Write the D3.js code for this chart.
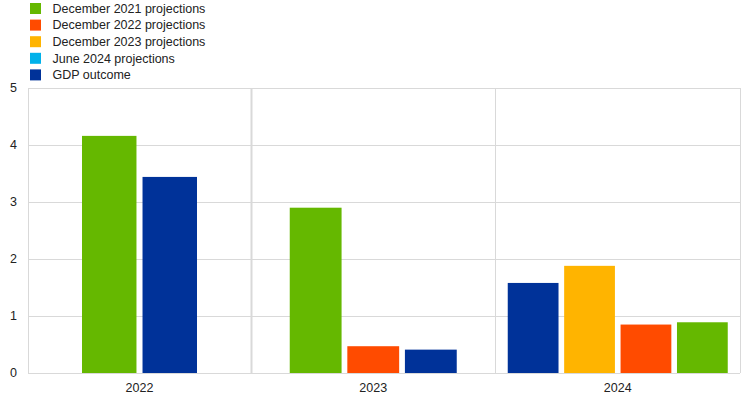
<!DOCTYPE html>
<html>
<head>
<meta charset="utf-8">
<script src="https://cdn.jsdelivr.net/npm/d3@7"></script>
<style>
  body { margin: 0; background: #fff; }
  svg { display: block; font-family: "Liberation Sans", Arial, sans-serif; }
</style>
</head>
<body>
<svg id="chart" width="743" height="399"></svg>
<script>
// Legend series and colours
const seriesNames = [
    "December 2021 projections",
    "December 2022 projections",
    "December 2023 projections",
    "June 2024 projections",
    "GDP outcome"
];
const seriesColors = ["#65b800", "#ff4b00", "#ffb400", "#00b1ea", "#003299"];

// Categories and the bars shown in each, in drawing order
const years = ["2022", "2023", "2024"];
const bars2022 = ["December 2021 projections", "GDP outcome"];
const values2022 = [4.16, 3.44];
const bars2023 = ["December 2021 projections", "December 2022 projections", "GDP outcome"];
const values2023 = [2.9, 0.47, 0.41];
const bars2024 = ["GDP outcome", "December 2023 projections", "December 2022 projections", "December 2021 projections"];
const values2024 = [1.58, 1.88, 0.85, 0.89];

const yTicks = [0, 1, 2, 3, 4, 5];

const groups = [
    { year: years[0], names: bars2022, values: values2022 },
    { year: years[1], names: bars2023, values: values2023 },
    { year: years[2], names: bars2024, values: values2024 }
];

const svg = d3.select('#chart');
const color = d3.scaleOrdinal().domain(seriesNames).range(seriesColors);

const plot = { left: 28, right: 740, top: 88, bottom: 373 };
const fontSize = 12.5;

const y = d3.scaleLinear().domain([0, 5]).range([plot.bottom, plot.top]);
// category units: group i spans [i, i+1]; first group partly cut by the axis
const x = d3.scaleLinear().domain([0.088, 3]).range([plot.left, plot.right]);

const grid = '#d9d9d9';

// horizontal gridlines
svg.append('g')
    .selectAll('line')
    .data(yTicks)
    .join('line')
    .attr('x1', plot.left).attr('x2', plot.right)
    .attr('y1', d => Math.round(y(d)) + 0.5).attr('y2', d => Math.round(y(d)) + 0.5)
    .attr('stroke', grid);

// vertical category separators
const seps = [x.domain()[0], 1, 2, 3];
svg.append('g')
    .selectAll('line')
    .data(seps)
    .join('line')
    .attr('x1', d => Math.round(x(d)) + 0.5).attr('x2', d => Math.round(x(d)) + 0.5)
    .attr('y1', plot.top).attr('y2', plot.bottom)
    .attr('stroke', grid)
    .attr('stroke-width', (d, i) => i === 1 ? 2 : 1);

// y tick labels
svg.append('g')
    .selectAll('text')
    .data(yTicks)
    .join('text')
    .attr('x', 17)
    .attr('y', d => y(d))
    .attr('dy', '0.35em')
    .attr('text-anchor', 'end')
    .attr('font-size', fontSize)
    .attr('fill', '#222')
    .text(d => d);

// bars - cluster width grows with the number of bars in a group
const clusterWidth = [115, 167, 220];

groups.forEach((grp, i) => {
    const lo = Math.max(i, x.domain()[0]);
    const cx = (x(lo) + x(i + 1)) / 2;
    const w = clusterWidth[i];
    const band = d3.scaleBand()
        .domain(d3.range(grp.names.length))
        .range([cx - w / 2, cx + w / 2])
        .paddingInner(0.1);

    svg.append('g')
        .selectAll('rect')
        .data(grp.values)
        .join('rect')
        .attr('x', (d, j) => band(j))
        .attr('width', band.bandwidth())
        .attr('y', d => y(d))
        .attr('height', d => y(0) - y(d))
        .attr('fill', (d, j) => color(grp.names[j]));

    svg.append('text')
        .attr('x', cx)
        .attr('y', 392)
        .attr('text-anchor', 'middle')
        .attr('font-size', fontSize)
        .attr('fill', '#222')
        .text(grp.year);
});

// legend
const legend = svg.append('g')
    .selectAll('g')
    .data(seriesNames)
    .join('g')
    .attr('transform', (d, i) => `translate(30, ${3 + i * 16.6})`);
legend.append('rect')
    .attr('width', 11).attr('height', 11)
    .attr('fill', d => color(d));
legend.append('text')
    .attr('x', 22.5)
    .attr('y', 5.5)
    .attr('dy', '0.35em')
    .attr('font-size', fontSize)
    .attr('fill', '#222')
    .text(d => d);
</script>
</body>
</html>
